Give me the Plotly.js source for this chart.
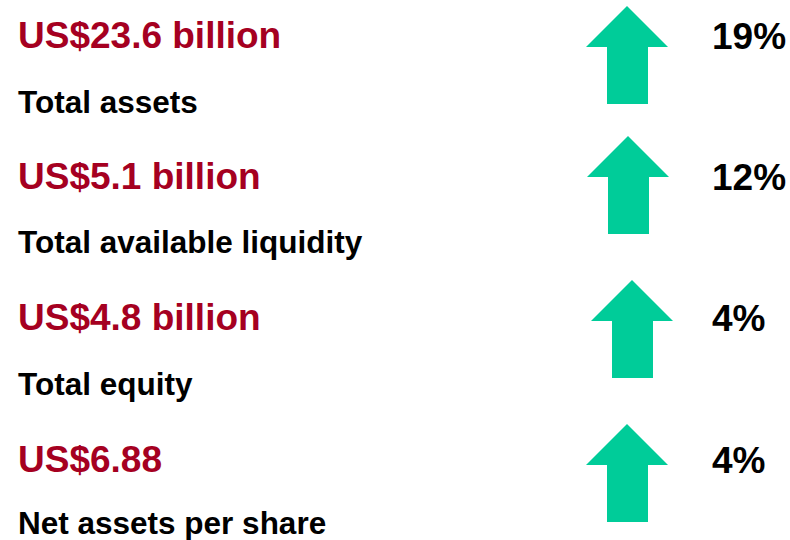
<!DOCTYPE html>
<html><head><meta charset="utf-8">
<script src="https://cdn.plot.ly/plotly-3.0.1.min.js"></script>
<style>html,body{margin:0;padding:0;background:#fff}#c{width:790px;height:540px}</style>
</head><body><div id="c"></div>
<script>
// Data
var amounts = ["US$23.6 billion", "US$5.1 billion", "US$4.8 billion", "US$6.88"];
var metrics = ["Total assets", "Total available liquidity", "Total equity", "Net assets per share"];
var changes = [19, 12, 4, 4];

// Layout helpers (positions, not data)
var amountY = [35, 176, 317, 459];
var metricY = [102, 242, 384, 523];
var arrowTip = [6, 136, 280, 424];
var arrowCx = [627, 628, 632, 627];
var red = "#A50021", green = "#00CC99";
var font = "Liberation Sans, Arial, sans-serif";

var traces = [], annotations = [];
for (var i = 0; i < amounts.length; i++) {
  var t = arrowTip[i], cx = arrowCx[i];
  // arrow template relative to tip
  var ax = [cx, cx + 41, cx + 21, cx + 21, cx - 20, cx - 20, cx - 41, cx];
  var ay = [t, t + 41, t + 41, t + 98, t + 98, t + 41, t + 41, t];
  traces.push({x: ax, y: ay, type: "scatter", mode: "lines", fill: "toself",
    fillcolor: green, line: {color: green, width: 0}, hoverinfo: "skip", showlegend: false});
  annotations.push({x: 16, y: amountY[i], xref: "x", yref: "y", xanchor: "left", yanchor: "middle",
    text: "<b>" + amounts[i] + "</b>", showarrow: false, font: {family: font, size: 37, color: red}});
  annotations.push({x: 16, y: metricY[i], xref: "x", yref: "y", xanchor: "left", yanchor: "middle",
    text: "<b>" + metrics[i] + "</b>", showarrow: false, font: {family: font, size: 31.5, color: "#000"}});
  annotations.push({x: 710, y: amountY[i] + 1, xref: "x", yref: "y", xanchor: "left", yanchor: "middle",
    text: "<b>" + changes[i] + "%</b>", showarrow: false, font: {family: font, size: 37, color: "#000"}});
}

Plotly.newPlot("c", traces, {
  width: 790, height: 540, margin: {l: 0, r: 0, t: 0, b: 0},
  paper_bgcolor: "#fff", plot_bgcolor: "#fff",
  xaxis: {range: [0, 790], visible: false, fixedrange: true},
  yaxis: {range: [540, 0], visible: false, fixedrange: true},
  annotations: annotations, showlegend: false
}, {displayModeBar: false, staticPlot: true});
</script></body></html>
